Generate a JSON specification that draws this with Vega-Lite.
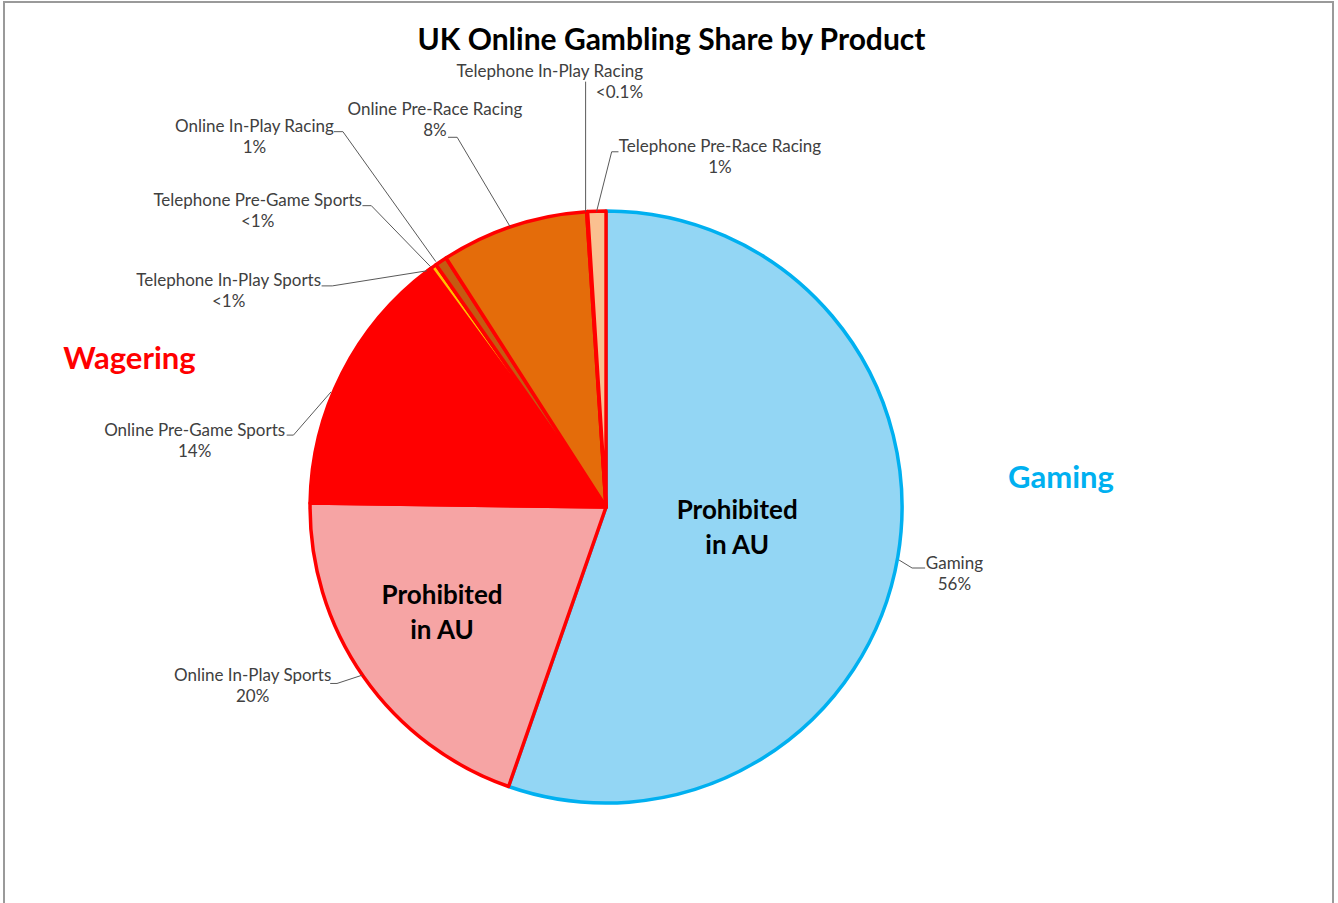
{
  "$schema": "https://vega.github.io/schema/vega-lite/v6.json",
  "autosize": {"type": "none"},
  "width": 1329,
  "height": 910,
  "padding": {"left": 4, "top": 2, "right": 5, "bottom": 0},
  "background": "white",
  "view": {"stroke": "#9a9a9a", "strokeWidth": 2, "fill": "white"},
  "config": {"font": "Lato"},
  "title": {
    "text": "UK Online Gambling Share by Product",
    "fontSize": 30,
    "font": "Lato",
    "fontWeight": "bold",
    "color": "#000000",
    "anchor": "middle",
    "frame": "group",
    "baseline": "alphabetic",
    "offset": -78,
    "dx": 3
  },
  "datasets": {
    "slices": [
      {"idx": 1, "product": "Gaming", "group": "Gaming", "share": 55.7, "pct": "56%", "lx": 117.7, "ly": -19.3},
      {"idx": 2, "product": "Online In-Play Sports", "group": "Wagering", "share": 20.0, "pct": "20%", "lx": -119.4, "ly": -57.1},
      {"idx": 3, "product": "Online Pre-Game Sports", "group": "Wagering", "share": 14.6, "pct": "14%", "lx": -139.0, "ly": 25.7},
      {"idx": 4, "product": "Telephone In-Play Sports", "group": "Wagering", "share": 0.2, "pct": "<1%", "lx": -127.5, "ly": 76.4},
      {"idx": 5, "product": "Telephone Pre-Game Sports", "group": "Wagering", "share": 0.35, "pct": "<1%", "lx": -117.7, "ly": 103.4},
      {"idx": 6, "product": "Online In-Play Racing", "group": "Wagering", "share": 0.65, "pct": "1%", "lx": -118.8, "ly": 128.4},
      {"idx": 7, "product": "Online Pre-Race Racing", "group": "Wagering", "share": 8.1, "pct": "8%", "lx": -57.8, "ly": 134.1},
      {"idx": 8, "product": "Telephone In-Play Racing", "group": "Wagering", "share": 0.05, "pct": "<0.1%", "lx": 12.5, "ly": 147.0},
      {"idx": 9, "product": "Telephone Pre-Race Racing", "group": "Wagering", "share": 1.0, "pct": "1%", "lx": 38.5, "ly": 121.6}
    ],
    "leaders": [
      {"id": "TIR", "seq": 1, "x": -6.9, "y": 143.7},
      {"id": "TIR", "seq": 2, "x": -6.9, "y": 99.8},
      {"id": "OPR", "seq": 1, "x": -53.4, "y": 124.9},
      {"id": "OPR", "seq": 2, "x": -50.3, "y": 124.9},
      {"id": "OPR", "seq": 3, "x": -32.4, "y": 94.7},
      {"id": "OIR", "seq": 1, "x": -91.9, "y": 126.8},
      {"id": "OIR", "seq": 2, "x": -88.9, "y": 126.8},
      {"id": "OIR", "seq": 3, "x": -57.5, "y": 82.9},
      {"id": "TPGS", "seq": 1, "x": -82.3, "y": 101.8},
      {"id": "TPGS", "seq": 2, "x": -79.3, "y": 101.8},
      {"id": "TPGS", "seq": 3, "x": -59.3, "y": 81.2},
      {"id": "TIPS", "seq": 1, "x": -96.1, "y": 74.7},
      {"id": "TIPS", "seq": 2, "x": -92.5, "y": 74.7},
      {"id": "TIPS", "seq": 3, "x": -60.5, "y": 79.8},
      {"id": "OPGS", "seq": 1, "x": -107.9, "y": 24.3},
      {"id": "OPGS", "seq": 2, "x": -105.6, "y": 24.3},
      {"id": "OPGS", "seq": 3, "x": -92.9, "y": 38.9},
      {"id": "OIPS", "seq": 1, "x": -93.2, "y": -59.6},
      {"id": "OIPS", "seq": 2, "x": -90.9, "y": -59.6},
      {"id": "OIPS", "seq": 3, "x": -82.4, "y": -56.8},
      {"id": "GAM", "seq": 1, "x": 107.8, "y": -20.6},
      {"id": "GAM", "seq": 2, "x": 103.4, "y": -20.6},
      {"id": "GAM", "seq": 3, "x": 99.0, "y": -17.9},
      {"id": "TPRR", "seq": 1, "x": 4.2, "y": 120.0},
      {"id": "TPRR", "seq": 2, "x": 1.9, "y": 120.0},
      {"id": "TPRR", "seq": 3, "x": -3.2, "y": 99.8}
    ],
    "headings": [
      {"text": "Wagering", "x": -161.0, "y": 49.7},
      {"text": "Gaming", "x": 153.7, "y": 9.5}
    ],
    "notes": [
      {"text": "Prohibited\nin AU", "x": 44.3, "y": -1.4},
      {"text": "Prohibited\nin AU", "x": -55.4, "y": -30.1}
    ]
  },
  "layer": [
    {
      "data": {"name": "slices"},
      "mark": {"type": "arc", "outerRadius": 296, "strokeWidth": 3.5, "strokeJoin": "round"},
      "encoding": {
        "theta": {"field": "share", "type": "quantitative", "stack": true},
        "order": {"field": "idx", "type": "quantitative"},
        "fill": {
          "field": "product",
          "type": "nominal",
          "scale": {
            "domain": ["Gaming", "Online In-Play Sports", "Online Pre-Game Sports", "Telephone In-Play Sports", "Telephone Pre-Game Sports", "Online In-Play Racing", "Online Pre-Race Racing", "Telephone In-Play Racing", "Telephone Pre-Race Racing"],
            "range": ["#93D6F4", "#F6A4A4", "#FF0000", "#E00000", "#FFC000", "#C55A11", "#E46C0A", "#FF0000", "#FAC090"]
          },
          "legend": null
        },
        "stroke": {
          "field": "group",
          "type": "nominal",
          "scale": {"domain": ["Gaming", "Wagering"], "range": ["#00B0F0", "#FF0000"]},
          "legend": null
        },
        "x": {"datum": 0, "type": "quantitative", "scale": {"domain": [-203.4, 245.6], "nice": false, "zero": false}, "axis": null},
        "y": {"datum": 0, "type": "quantitative", "scale": {"domain": [-136.8, 170.6], "nice": false, "zero": false}, "axis": null}
      }
    },
    {
      "data": {"name": "leaders"},
      "mark": {"type": "line", "color": "#595959", "strokeWidth": 1},
      "encoding": {
        "x": {"field": "x", "type": "quantitative", "scale": {"domain": [-203.4, 245.6], "nice": false, "zero": false}, "axis": null},
        "y": {"field": "y", "type": "quantitative", "scale": {"domain": [-136.8, 170.6], "nice": false, "zero": false}, "axis": null},
        "detail": {"field": "id", "type": "nominal"},
        "order": {"field": "seq", "type": "quantitative"}
      }
    },
    {
      "data": {"name": "slices"},
      "transform": [
        {"filter": "datum.product !== 'Telephone In-Play Racing'"},
        {"calculate": "datum.product + '\\n' + datum.pct", "as": "lbl"}
      ],
      "mark": {"type": "text", "fontSize": 17, "font": "Lato", "color": "#404040", "align": "center", "baseline": "middle", "lineBreak": "\n", "lineHeight": 21},
      "encoding": {
        "x": {"field": "lx", "type": "quantitative", "scale": {"domain": [-203.4, 245.6], "nice": false, "zero": false}, "axis": null},
        "y": {"field": "ly", "type": "quantitative", "scale": {"domain": [-136.8, 170.6], "nice": false, "zero": false}, "axis": null},
        "text": {"field": "lbl", "type": "nominal"}
      }
    },
    {
      "data": {"name": "slices"},
      "transform": [
        {"filter": "datum.product === 'Telephone In-Play Racing'"},
        {"calculate": "datum.product + '\\n' + datum.pct", "as": "lbl"}
      ],
      "mark": {"type": "text", "fontSize": 17, "font": "Lato", "color": "#404040", "align": "right", "baseline": "middle", "lineBreak": "\n", "lineHeight": 21},
      "encoding": {
        "x": {"field": "lx", "type": "quantitative", "scale": {"domain": [-203.4, 245.6], "nice": false, "zero": false}, "axis": null},
        "y": {"field": "ly", "type": "quantitative", "scale": {"domain": [-136.8, 170.6], "nice": false, "zero": false}, "axis": null},
        "text": {"field": "lbl", "type": "nominal"}
      }
    },
    {
      "data": {"name": "headings"},
      "mark": {"type": "text", "fontSize": 31, "font": "Lato", "fontWeight": "bold", "align": "center", "baseline": "middle"},
      "encoding": {
        "x": {"field": "x", "type": "quantitative", "scale": {"domain": [-203.4, 245.6], "nice": false, "zero": false}, "axis": null},
        "y": {"field": "y", "type": "quantitative", "scale": {"domain": [-136.8, 170.6], "nice": false, "zero": false}, "axis": null},
        "text": {"field": "text", "type": "nominal"},
        "color": {"field": "text", "type": "nominal", "scale": {"domain": ["Wagering", "Gaming"], "range": ["#FF0000", "#00B0F0"]}, "legend": null}
      }
    },
    {
      "data": {"name": "notes"},
      "mark": {"type": "text", "fontSize": 26, "font": "Lato", "fontWeight": "bold", "color": "#000000", "align": "center", "baseline": "middle", "lineBreak": "\n", "lineHeight": 35},
      "encoding": {
        "x": {"field": "x", "type": "quantitative", "scale": {"domain": [-203.4, 245.6], "nice": false, "zero": false}, "axis": null},
        "y": {"field": "y", "type": "quantitative", "scale": {"domain": [-136.8, 170.6], "nice": false, "zero": false}, "axis": null},
        "text": {"field": "text", "type": "nominal"}
      }
    }
  ]
}
